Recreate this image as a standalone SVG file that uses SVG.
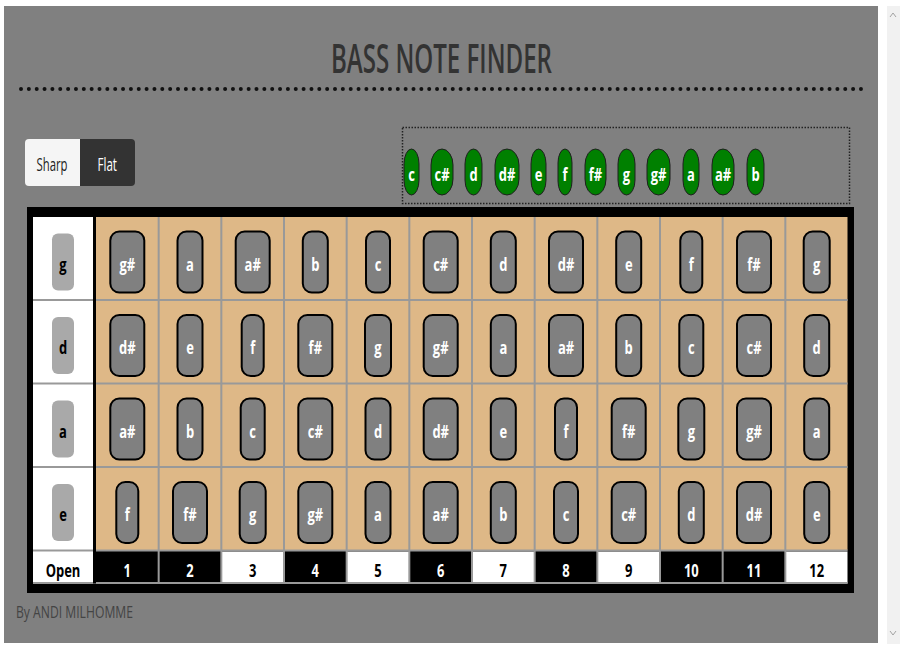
<svg xmlns="http://www.w3.org/2000/svg" width="900" height="650" viewBox="0 0 900 650">
<style>
.bt{font-family:"Open Sans","Liberation Sans",sans-serif;font-weight:700;font-size:18px;text-anchor:middle}
.w{fill:#fff}
.k{fill:#000}
.note rect{fill:#808080;stroke:#000;stroke-width:2}
.str rect{fill:#a9a9a9}
.gn rect{fill:#008000;stroke:#1e1e1e;stroke-width:1}
.grid line{stroke:#999;stroke-width:2}
.reg{font-family:"Open Sans","Liberation Sans",sans-serif;font-weight:500}
</style>
<rect width="900" height="650" fill="#fff"/>
<rect x="4" y="6" width="874" height="637" fill="#808080"/>
<g id="scrollbar">
<rect x="887" y="6" width="13" height="638" fill="#f1f1f1"/>
<polyline points="890,17 893,13 896,17" fill="none" stroke="#a3a3a3" stroke-width="1"/>
<polyline points="890,631 893,635 896,631" fill="none" stroke="#a3a3a3" stroke-width="1"/>
</g>
<g id="title">
<text class="reg" x="331" y="73" font-size="39" font-weight="600" fill="#333" textLength="221" lengthAdjust="spacingAndGlyphs" style="font-weight:600">BASS NOTE FINDER</text>
<line x1="21" y1="89" x2="862" y2="89" stroke="#111" stroke-width="4" stroke-linecap="round" stroke-dasharray="0 7.85"/>
</g>
<g id="btn-sharp">
<path d="M29,139 H80 V186 H29 Q25,186 25,182 V143 Q25,139 29,139 Z" fill="#f5f5f5"/>
<text class="reg" x="36.5" y="171" font-size="19" fill="#222" textLength="31" lengthAdjust="spacingAndGlyphs">Sharp</text>
</g>
<g id="btn-flat">
<path d="M80,139 H131 Q135,139 135,143 V182 Q135,186 131,186 H80 Z" fill="#333"/>
<text class="reg" x="97.5" y="171" font-size="19" fill="#fff" textLength="19.5" lengthAdjust="spacingAndGlyphs">Flat</text>
</g>
<g id="scale-notes">
<rect x="402.5" y="127.5" width="447" height="76" fill="none" stroke="#222" stroke-width="1.5" stroke-dasharray="1.5 1.5"/>
<g class="gn" id="g-c"><rect x="404" y="149" width="15" height="46" rx="7.5" ry="15"/><text class="bt w" transform="translate(411.5 180.5) scale(.72 1)">c</text></g>
<g class="gn" id="g-cs"><rect x="431" y="149" width="22" height="46" rx="11" ry="16"/><text class="bt w" transform="translate(442 180.5) scale(.72 1)">c#</text></g>
<g class="gn" id="g-d"><rect x="465" y="149" width="17" height="46" rx="8.5" ry="15"/><text class="bt w" transform="translate(473.5 180.5) scale(.72 1)">d</text></g>
<g class="gn" id="g-ds"><rect x="495" y="149" width="24" height="46" rx="12" ry="16"/><text class="bt w" transform="translate(507 180.5) scale(.72 1)">d#</text></g>
<g class="gn" id="g-e"><rect x="531" y="149" width="15" height="46" rx="7.5" ry="15"/><text class="bt w" transform="translate(538.5 180.5) scale(.72 1)">e</text></g>
<g class="gn" id="g-f"><rect x="558" y="149" width="14" height="46" rx="7" ry="14"/><text class="bt w" transform="translate(565 180.5) scale(.72 1)">f</text></g>
<g class="gn" id="g-fs"><rect x="585" y="149" width="21" height="46" rx="10.5" ry="16"/><text class="bt w" transform="translate(595.5 180.5) scale(.72 1)">f#</text></g>
<g class="gn" id="g-g"><rect x="618" y="149" width="17" height="46" rx="8.5" ry="15"/><text class="bt w" transform="translate(626.5 180.5) scale(.72 1)">g</text></g>
<g class="gn" id="g-gs"><rect x="647" y="149" width="23" height="46" rx="11.5" ry="16"/><text class="bt w" transform="translate(658.5 180.5) scale(.72 1)">g#</text></g>
<g class="gn" id="g-a"><rect x="683" y="149" width="16" height="46" rx="8" ry="15"/><text class="bt w" transform="translate(691 180.5) scale(.72 1)">a</text></g>
<g class="gn" id="g-as"><rect x="712" y="149" width="22" height="46" rx="11" ry="16"/><text class="bt w" transform="translate(723 180.5) scale(.72 1)">a#</text></g>
<g class="gn" id="g-b"><rect x="747" y="149" width="17" height="46" rx="8.5" ry="15"/><text class="bt w" transform="translate(755.5 180.5) scale(.72 1)">b</text></g>
</g>
<g id="fretboard">
<rect x="27" y="207" width="827" height="386" fill="#000"/>
<rect x="33" y="217" width="60" height="366.5" fill="#fff"/>
<rect x="96" y="217" width="751.5" height="333.5" fill="#deb887"/>
<g id="fret-numbers">
<rect x="96" y="551.5" width="62.67" height="32" fill="#000"/>
<rect x="158.67" y="551.5" width="62.67" height="32" fill="#000"/>
<rect x="221.33" y="551.5" width="62.67" height="32" fill="#fff"/>
<rect x="284" y="551.5" width="62.67" height="32" fill="#000"/>
<rect x="346.67" y="551.5" width="62.67" height="32" fill="#fff"/>
<rect x="409.33" y="551.5" width="62.67" height="32" fill="#000"/>
<rect x="472" y="551.5" width="62.67" height="32" fill="#fff"/>
<rect x="534.67" y="551.5" width="62.67" height="32" fill="#000"/>
<rect x="597.33" y="551.5" width="62.67" height="32" fill="#fff"/>
<rect x="660" y="551.5" width="62.67" height="32" fill="#000"/>
<rect x="722.67" y="551.5" width="62.67" height="32" fill="#000"/>
<rect x="785.33" y="551.5" width="62.17" height="32" fill="#fff"/>
</g>
<g class="grid">
<line x1="33" y1="300" x2="847.5" y2="300"/>
<line x1="33" y1="383.5" x2="847.5" y2="383.5"/>
<line x1="33" y1="467" x2="847.5" y2="467"/>
<line x1="33" y1="550.5" x2="847.5" y2="550.5"/>
<line x1="33" y1="583" x2="847.5" y2="583"/>
<line x1="158.67" y1="217" x2="158.67" y2="583.5"/>
<line x1="221.33" y1="217" x2="221.33" y2="583.5"/>
<line x1="284" y1="217" x2="284" y2="583.5"/>
<line x1="346.67" y1="217" x2="346.67" y2="583.5"/>
<line x1="409.33" y1="217" x2="409.33" y2="583.5"/>
<line x1="472" y1="217" x2="472" y2="583.5"/>
<line x1="534.67" y1="217" x2="534.67" y2="583.5"/>
<line x1="597.33" y1="217" x2="597.33" y2="583.5"/>
<line x1="660" y1="217" x2="660" y2="583.5"/>
<line x1="722.67" y1="217" x2="722.67" y2="583.5"/>
<line x1="785.33" y1="217" x2="785.33" y2="583.5"/>
</g>
<rect x="93" y="217" width="3" height="366.5" fill="#000"/>
<g id="fret-labels">
<text class="bt k" transform="translate(63 576.5) scale(.72 1)">Open</text>
<text class="bt w" transform="translate(127.3 576.5) scale(.72 1)">1</text>
<text class="bt w" transform="translate(190 576.5) scale(.72 1)">2</text>
<text class="bt k" transform="translate(252.7 576.5) scale(.72 1)">3</text>
<text class="bt w" transform="translate(315.3 576.5) scale(.72 1)">4</text>
<text class="bt k" transform="translate(378 576.5) scale(.72 1)">5</text>
<text class="bt w" transform="translate(440.7 576.5) scale(.72 1)">6</text>
<text class="bt k" transform="translate(503.3 576.5) scale(.72 1)">7</text>
<text class="bt w" transform="translate(566 576.5) scale(.72 1)">8</text>
<text class="bt k" transform="translate(628.7 576.5) scale(.72 1)">9</text>
<text class="bt w" transform="translate(691.3 576.5) scale(.72 1)">10</text>
<text class="bt w" transform="translate(754 576.5) scale(.72 1)">11</text>
<text class="bt k" transform="translate(816.7 576.5) scale(.72 1)">12</text>
</g>
</g>
<g id="strings">
<g class="str" id="s-g"><rect x="52" y="233.5" width="22" height="57" rx="6"/><text class="bt k" transform="translate(63 270.5) scale(.72 1)">g</text></g>
<g class="str" id="s-d"><rect x="52" y="317" width="22" height="57" rx="6"/><text class="bt k" transform="translate(63 354) scale(.72 1)">d</text></g>
<g class="str" id="s-a"><rect x="52" y="400.5" width="22" height="57" rx="6"/><text class="bt k" transform="translate(63 437.5) scale(.72 1)">a</text></g>
<g class="str" id="s-e"><rect x="52" y="484" width="22" height="57" rx="6"/><text class="bt k" transform="translate(63 521) scale(.72 1)">e</text></g>
</g>
<g id="notes-g">
<g class="note" id="n-g-1"><rect x="110.3" y="231.5" width="34" height="61" rx="9"/><text class="bt w" transform="translate(127.3 270.5) scale(.72 1)">g#</text></g>
<g class="note" id="n-g-2"><rect x="177.5" y="231.5" width="25" height="61" rx="9"/><text class="bt w" transform="translate(190 270.5) scale(.72 1)">a</text></g>
<g class="note" id="n-g-3"><rect x="235.7" y="231.5" width="34" height="61" rx="9"/><text class="bt w" transform="translate(252.7 270.5) scale(.72 1)">a#</text></g>
<g class="note" id="n-g-4"><rect x="302.8" y="231.5" width="25" height="61" rx="9"/><text class="bt w" transform="translate(315.3 270.5) scale(.72 1)">b</text></g>
<g class="note" id="n-g-5"><rect x="366" y="231.5" width="24" height="61" rx="9"/><text class="bt w" transform="translate(378 270.5) scale(.72 1)">c</text></g>
<g class="note" id="n-g-6"><rect x="423.7" y="231.5" width="34" height="61" rx="9"/><text class="bt w" transform="translate(440.7 270.5) scale(.72 1)">c#</text></g>
<g class="note" id="n-g-7"><rect x="490.8" y="231.5" width="25" height="61" rx="9"/><text class="bt w" transform="translate(503.3 270.5) scale(.72 1)">d</text></g>
<g class="note" id="n-g-8"><rect x="549" y="231.5" width="34" height="61" rx="9"/><text class="bt w" transform="translate(566 270.5) scale(.72 1)">d#</text></g>
<g class="note" id="n-g-9"><rect x="616.2" y="231.5" width="25" height="61" rx="9"/><text class="bt w" transform="translate(628.7 270.5) scale(.72 1)">e</text></g>
<g class="note" id="n-g-10"><rect x="680.3" y="231.5" width="22" height="61" rx="9"/><text class="bt w" transform="translate(691.3 270.5) scale(.72 1)">f</text></g>
<g class="note" id="n-g-11"><rect x="737" y="231.5" width="34" height="61" rx="9"/><text class="bt w" transform="translate(754 270.5) scale(.72 1)">f#</text></g>
<g class="note" id="n-g-12"><rect x="803.7" y="231.5" width="26" height="61" rx="9"/><text class="bt w" transform="translate(816.7 270.5) scale(.72 1)">g</text></g>
</g>
<g id="notes-d">
<g class="note" id="n-d-1"><rect x="110.3" y="315" width="34" height="61" rx="9"/><text class="bt w" transform="translate(127.3 354) scale(.72 1)">d#</text></g>
<g class="note" id="n-d-2"><rect x="177.5" y="315" width="25" height="61" rx="9"/><text class="bt w" transform="translate(190 354) scale(.72 1)">e</text></g>
<g class="note" id="n-d-3"><rect x="241.7" y="315" width="22" height="61" rx="9"/><text class="bt w" transform="translate(252.7 354) scale(.72 1)">f</text></g>
<g class="note" id="n-d-4"><rect x="298.3" y="315" width="34" height="61" rx="9"/><text class="bt w" transform="translate(315.3 354) scale(.72 1)">f#</text></g>
<g class="note" id="n-d-5"><rect x="365" y="315" width="26" height="61" rx="9"/><text class="bt w" transform="translate(378 354) scale(.72 1)">g</text></g>
<g class="note" id="n-d-6"><rect x="423.7" y="315" width="34" height="61" rx="9"/><text class="bt w" transform="translate(440.7 354) scale(.72 1)">g#</text></g>
<g class="note" id="n-d-7"><rect x="490.8" y="315" width="25" height="61" rx="9"/><text class="bt w" transform="translate(503.3 354) scale(.72 1)">a</text></g>
<g class="note" id="n-d-8"><rect x="549" y="315" width="34" height="61" rx="9"/><text class="bt w" transform="translate(566 354) scale(.72 1)">a#</text></g>
<g class="note" id="n-d-9"><rect x="616.2" y="315" width="25" height="61" rx="9"/><text class="bt w" transform="translate(628.7 354) scale(.72 1)">b</text></g>
<g class="note" id="n-d-10"><rect x="679.3" y="315" width="24" height="61" rx="9"/><text class="bt w" transform="translate(691.3 354) scale(.72 1)">c</text></g>
<g class="note" id="n-d-11"><rect x="737" y="315" width="34" height="61" rx="9"/><text class="bt w" transform="translate(754 354) scale(.72 1)">c#</text></g>
<g class="note" id="n-d-12"><rect x="804.2" y="315" width="25" height="61" rx="9"/><text class="bt w" transform="translate(816.7 354) scale(.72 1)">d</text></g>
</g>
<g id="notes-a">
<g class="note" id="n-a-1"><rect x="110.3" y="398.5" width="34" height="61" rx="9"/><text class="bt w" transform="translate(127.3 437.5) scale(.72 1)">a#</text></g>
<g class="note" id="n-a-2"><rect x="177.5" y="398.5" width="25" height="61" rx="9"/><text class="bt w" transform="translate(190 437.5) scale(.72 1)">b</text></g>
<g class="note" id="n-a-3"><rect x="240.7" y="398.5" width="24" height="61" rx="9"/><text class="bt w" transform="translate(252.7 437.5) scale(.72 1)">c</text></g>
<g class="note" id="n-a-4"><rect x="298.3" y="398.5" width="34" height="61" rx="9"/><text class="bt w" transform="translate(315.3 437.5) scale(.72 1)">c#</text></g>
<g class="note" id="n-a-5"><rect x="365.5" y="398.5" width="25" height="61" rx="9"/><text class="bt w" transform="translate(378 437.5) scale(.72 1)">d</text></g>
<g class="note" id="n-a-6"><rect x="423.7" y="398.5" width="34" height="61" rx="9"/><text class="bt w" transform="translate(440.7 437.5) scale(.72 1)">d#</text></g>
<g class="note" id="n-a-7"><rect x="490.8" y="398.5" width="25" height="61" rx="9"/><text class="bt w" transform="translate(503.3 437.5) scale(.72 1)">e</text></g>
<g class="note" id="n-a-8"><rect x="555" y="398.5" width="22" height="61" rx="9"/><text class="bt w" transform="translate(566 437.5) scale(.72 1)">f</text></g>
<g class="note" id="n-a-9"><rect x="611.7" y="398.5" width="34" height="61" rx="9"/><text class="bt w" transform="translate(628.7 437.5) scale(.72 1)">f#</text></g>
<g class="note" id="n-a-10"><rect x="678.3" y="398.5" width="26" height="61" rx="9"/><text class="bt w" transform="translate(691.3 437.5) scale(.72 1)">g</text></g>
<g class="note" id="n-a-11"><rect x="737" y="398.5" width="34" height="61" rx="9"/><text class="bt w" transform="translate(754 437.5) scale(.72 1)">g#</text></g>
<g class="note" id="n-a-12"><rect x="804.2" y="398.5" width="25" height="61" rx="9"/><text class="bt w" transform="translate(816.7 437.5) scale(.72 1)">a</text></g>
</g>
<g id="notes-e">
<g class="note" id="n-e-1"><rect x="116.3" y="482" width="22" height="61" rx="9"/><text class="bt w" transform="translate(127.3 521) scale(.72 1)">f</text></g>
<g class="note" id="n-e-2"><rect x="173" y="482" width="34" height="61" rx="9"/><text class="bt w" transform="translate(190 521) scale(.72 1)">f#</text></g>
<g class="note" id="n-e-3"><rect x="239.7" y="482" width="26" height="61" rx="9"/><text class="bt w" transform="translate(252.7 521) scale(.72 1)">g</text></g>
<g class="note" id="n-e-4"><rect x="298.3" y="482" width="34" height="61" rx="9"/><text class="bt w" transform="translate(315.3 521) scale(.72 1)">g#</text></g>
<g class="note" id="n-e-5"><rect x="365.5" y="482" width="25" height="61" rx="9"/><text class="bt w" transform="translate(378 521) scale(.72 1)">a</text></g>
<g class="note" id="n-e-6"><rect x="423.7" y="482" width="34" height="61" rx="9"/><text class="bt w" transform="translate(440.7 521) scale(.72 1)">a#</text></g>
<g class="note" id="n-e-7"><rect x="490.8" y="482" width="25" height="61" rx="9"/><text class="bt w" transform="translate(503.3 521) scale(.72 1)">b</text></g>
<g class="note" id="n-e-8"><rect x="554" y="482" width="24" height="61" rx="9"/><text class="bt w" transform="translate(566 521) scale(.72 1)">c</text></g>
<g class="note" id="n-e-9"><rect x="611.7" y="482" width="34" height="61" rx="9"/><text class="bt w" transform="translate(628.7 521) scale(.72 1)">c#</text></g>
<g class="note" id="n-e-10"><rect x="678.8" y="482" width="25" height="61" rx="9"/><text class="bt w" transform="translate(691.3 521) scale(.72 1)">d</text></g>
<g class="note" id="n-e-11"><rect x="737" y="482" width="34" height="61" rx="9"/><text class="bt w" transform="translate(754 521) scale(.72 1)">d#</text></g>
<g class="note" id="n-e-12"><rect x="804.2" y="482" width="25" height="61" rx="9"/><text class="bt w" transform="translate(816.7 521) scale(.72 1)">e</text></g>
</g>
<g id="credit">
<text class="reg" x="16" y="618" font-size="17" fill="#444" textLength="117" lengthAdjust="spacingAndGlyphs">By ANDI MILHOMME</text>
</g>
</svg>
